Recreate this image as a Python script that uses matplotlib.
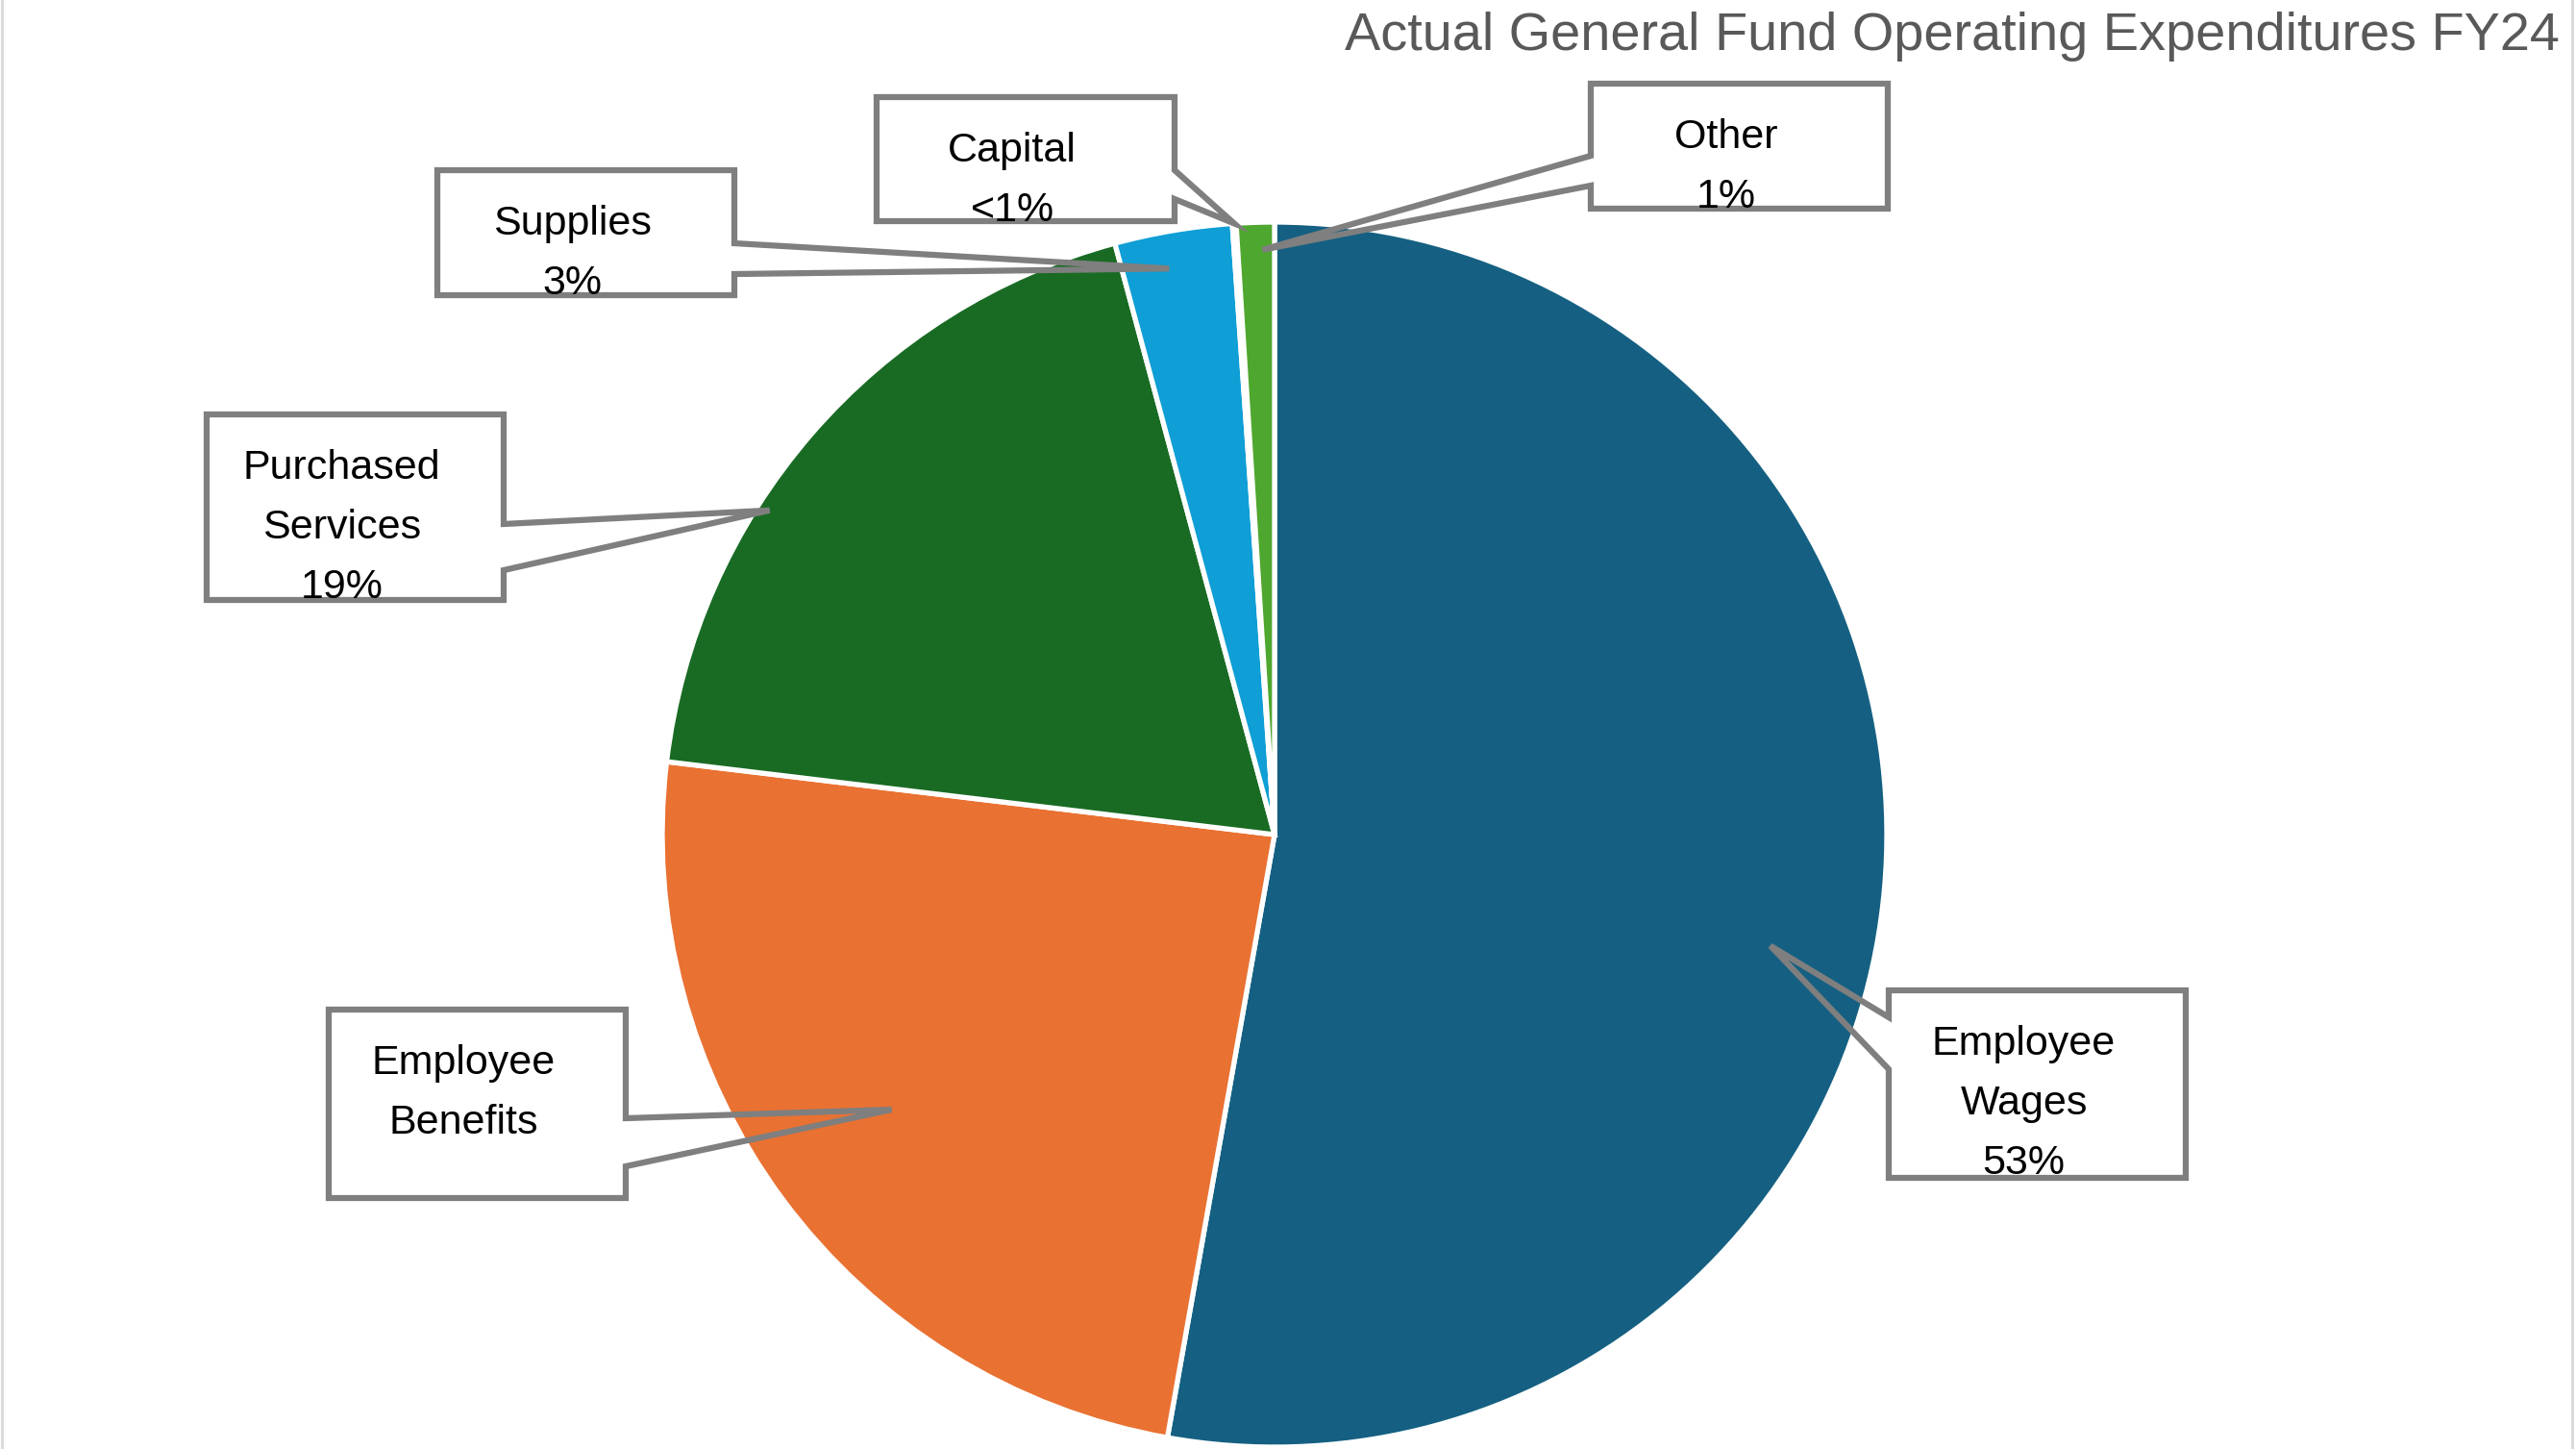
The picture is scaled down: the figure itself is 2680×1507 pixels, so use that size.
import matplotlib.pyplot as plt
from matplotlib.patches import Polygon
import numpy as np

plt.rcParams['font.family'] = ['Liberation Sans', 'DejaVu Sans']

W, H = 2680, 1507

title = 'Actual General Fund Operating Expenditures FY24'
categories = ['Employee Wages', 'Employee Benefits', 'Purchased Services',
              'Supplies', 'Capital', 'Other']
shares = [52.8, 24.1, 18.9, 3.1, 0.1, 1.0]
label_lines = [['Employee', 'Wages'], ['Employee', 'Benefits'],
               ['Purchased', 'Services'], ['Supplies'], ['Capital'], ['Other']]
show_pct = [True, False, True, True, True, True]
colors = ['#156082', '#E97132', '#196B24', '#0F9ED5', '#A02B93', '#4EA72E']

# callout layout, pixels from the top-left: box (x0, y0, x1, y1), pointer side,
# pointer base (ya, yb), tip as (fraction along wedge, fraction of radius)
boxes = [(1962, 1027, 2277, 1228), (339, 1047, 654, 1249), (212, 428, 527, 627),
         (452, 174, 767, 310), (909, 98, 1225, 233), (1652, 84, 1967, 220)]
sides = ['L', 'R', 'R', 'R', 'R', 'L']
bases = [(1058, 1112), (1163, 1213), (545, 593), (253, 285), (177, 207), (162, 193)]
tips = [(0.46, 0.83), (0.49, 0.77), (0.62, 0.98), (0.59, 0.94), (0.5, 1.0), (0.33, 0.955)]

cx, cy, R = 1326, H - 868, 637


def pct_text(v):
    return f'{round(v)}%' if v >= 0.5 else '<1%'


fig = plt.figure(figsize=(W / 100, H / 100), dpi=100)
ax = fig.add_axes([0, 0, 1, 1])

wedges, _ = ax.pie(shares, colors=colors, startangle=90, counterclock=False,
                   center=(cx, cy), radius=R,
                   wedgeprops=dict(edgecolor='white', linewidth=3.8))
ax.set_xlim(0, W)
ax.set_ylim(0, H)
ax.set_aspect('auto')
ax.axis('off')

for i, w in enumerate(wedges):
    f, rf = tips[i]
    ang = np.radians(w.theta1 + f * (w.theta2 - w.theta1))
    tx, ty = cx + rf * R * np.cos(ang), cy + rf * R * np.sin(ang)
    x0, y0, x1, y1 = boxes[i]
    # inset by half the stroke so outer edge matches
    x0, y0, x1, y1 = x0 + 3, y0 + 3, x1 - 3, y1 - 3
    ya, yb = bases[i]
    if sides[i] == 'R':
        pts = [(x0, y0), (x1, y0), (x1, ya), None, (x1, yb), (x1, y1), (x0, y1)]
    else:
        pts = [(x0, y0), (x1, y0), (x1, y1), (x0, y1), (x0, yb), None, (x0, ya)]
    verts = [(tx, ty) if p is None else (p[0], H - p[1]) for p in pts]
    ax.add_patch(Polygon(verts, closed=True, fill=False, edgecolor='#7F7F7F',
                         linewidth=4.5, joinstyle='miter', zorder=5))

    lines = list(label_lines[i])
    if show_pct[i]:
        lines.append(pct_text(shares[i]))
    xc = (boxes[i][0] + boxes[i][2]) / 2 - 14
    for k, s in enumerate(lines):
        ax.text(xc, H - (boxes[i][1] + 70 + 62 * k), s, ha='center', va='baseline',
                fontsize=31, color='black', zorder=6)

ax.text(2663, H - 52, title, ha='right', va='baseline', fontsize=40.2, color='#595959')

# thin chart border at the sides
ax.plot([2, 2], [0, H], color='#D9D9D9', linewidth=2)
ax.plot([W - 4, W - 4], [0, H], color='#D9D9D9', linewidth=2)

fig.savefig('out.png', dpi=100)
